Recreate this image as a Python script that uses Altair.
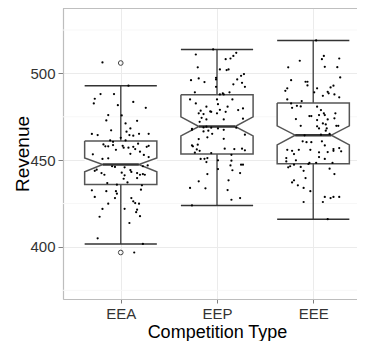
import altair as alt
import pandas as pd

# ---- data ----
groups = ["EEA", "EEP", "EEE"]
# box statistics: lower whisker, Q1, notch low, median, notch high, Q3, upper whisker
whisker_lo = [401.7, 423.9, 416.0]
q1 = [436.0, 453.6, 447.9]
notch_lo = [443.3, 464.0, 458.8]
median = [447.5, 469.4, 464.4]
notch_hi = [451.3, 475.0, 469.8]
q3 = [461.0, 487.7, 483.0]
whisker_hi = [492.9, 513.8, 519.0]
outlier_group = ["EEA", "EEA"]
outlier_value = [506.0, 396.8]

y_major = [400, 450, 500]
y_minor = [375, 425, 475, 525]

# jittered observations: (horizontal jitter in category units, revenue)
eea_jit = [-0.19, 0.08, -0.21, -0.07, -0.27, -0.28, 0.13, -0.03, 0.26, -0.13, 0.01, -0.15, 0.17, 0.05, 0.10,
           -0.10, 0.06, 0.09, 0.13, 0.19, 0.29, -0.30, -0.24, 0.00, -0.11, -0.08, 0.05, -0.18, -0.16, -0.13,
           -0.08, -0.05, 0.02, 0.03, 0.08, 0.13, 0.18, 0.15, 0.20, 0.27, 0.29, 0.24, 0.29, -0.29, -0.19, -0.13,
           0.10, -0.09, -0.06, 0.04, 0.10, 0.11, -0.27, -0.25, -0.20, -0.17, 0.01, 0.04, 0.03, 0.17, 0.20, 0.23,
           0.25, 0.17, 0.23, 0.28, -0.14, -0.04, 0.07, 0.22, 0.21, -0.30, -0.15, -0.05, -0.04, -0.27, -0.06,
           0.11, -0.13, 0.13, 0.15, 0.19, 0.04, -0.19, 0.17, 0.16, 0.20, -0.22, 0.09, -0.24, 0.23, 0.14]
eea_rev = [506.3, 492.9, 488.1, 488.1, 485.4, 482.7, 483.6, 481.7, 480.2, 476.0, 475.8, 472.9, 472.7, 471.2,
           468.3, 467.2, 466.4, 464.5, 464.1, 465.2, 465.2, 465.1, 464.5, 462.9, 461.4, 460.6, 461.4, 459.1,
           458.0, 458.0, 458.7, 456.0, 458.3, 457.2, 457.2, 457.7, 459.5, 456.4, 454.9, 457.7, 458.3, 453.0,
           451.8, 453.4, 450.7, 451.1, 453.7, 446.5, 446.1, 445.9, 444.3, 443.2, 443.9, 444.5, 442.6, 441.6,
           442.8, 441.3, 439.3, 442.6, 441.6, 442.0, 441.6, 439.7, 446.5, 447.0, 436.8, 435.9, 437.2, 435.5,
           433.0, 432.6, 432.1, 432.1, 430.7, 428.8, 428.2, 428.2, 424.9, 426.3, 425.3, 424.9, 422.0, 421.9,
           421.5, 420.0, 417.7, 417.4, 413.8, 405.0, 401.7, 396.8]

eep_jit = [-0.04, -0.22, 0.20, 0.17, 0.14, 0.09, 0.03, 0.10, 0.12, -0.20, 0.28, 0.25, -0.27, -0.19, -0.13,
           -0.01, -0.01, 0.21, 0.26, 0.17, 0.29, -0.01, -0.23, 0.06, 0.07, 0.13, 0.03, -0.28, 0.00, 0.16,
           -0.22, -0.11, 0.01, 0.11, -0.17, -0.07, -0.06, 0.03, 0.09, 0.22, 0.27, -0.19, -0.14, 0.00, -0.16,
           -0.11, 0.07, 0.27, -0.18, -0.26, -0.14, -0.11, -0.06, 0.01, 0.20, -0.26, -0.14, -0.09, -0.05, 0.07,
           0.29, -0.19, -0.10, 0.07, -0.26, -0.25, -0.20, -0.21, -0.18, -0.23, 0.08, 0.18, 0.26, 0.29, -0.06,
           0.15, -0.17, -0.13, -0.10, -0.11, 0.01, 0.15, 0.14, 0.25, 0.27, 0.01, 0.16, 0.24, -0.10, 0.12,
           -0.19, -0.12, -0.28, 0.11, 0.24, 0.15, -0.26]
eep_rev = [513.8, 510.9, 511.9, 510.1, 508.6, 508.2, 502.3, 501.9, 502.3, 503.5, 499.6, 498.6, 496.1, 497.1,
           495.0, 497.5, 496.5, 496.5, 494.6, 493.7, 492.3, 492.3, 489.1, 488.5, 487.9, 489.1, 487.9, 485.0,
           485.0, 485.0, 482.7, 480.8, 482.3, 480.8, 478.5, 478.1, 477.9, 479.0, 477.9, 478.9, 479.8, 477.0,
           476.6, 477.0, 474.4, 473.5, 473.5, 473.9, 472.1, 468.1, 468.9, 469.3, 468.7, 468.3, 468.7, 467.5,
           466.6, 467.0, 465.2, 467.5, 464.7, 462.2, 463.2, 462.3, 458.5, 458.0, 458.9, 456.2, 455.4, 454.3,
           456.6, 456.4, 456.6, 455.7, 454.1, 453.1, 450.7, 450.8, 451.2, 448.9, 449.9, 449.7, 447.0, 447.4,
           447.4, 444.9, 444.2, 442.6, 442.0, 438.4, 437.8, 433.8, 434.0, 432.8, 428.2, 427.2, 423.9]

eee_jit = [0.03, 0.11, 0.27, 0.09, -0.14, -0.26, 0.12, 0.25, 0.28, -0.23, -0.08, -0.06, -0.06, -0.27, -0.29,
           0.04, 0.18, 0.21, 0.15, 0.01, 0.10, 0.16, 0.22, 0.27, -0.27, -0.12, -0.23, -0.17, -0.13, -0.22,
           0.04, 0.08, 0.11, 0.12, 0.23, 0.06, -0.04, -0.02, -0.18, 0.04, 0.15, 0.22, 0.10, 0.13, -0.13, 0.04,
           0.24, 0.26, 0.06, 0.14, -0.09, 0.13, 0.08, 0.17, -0.11, -0.07, -0.02, 0.09, 0.12, -0.27, -0.22,
           -0.15, -0.03, 0.06, 0.15, 0.21, 0.21, 0.27, 0.29, -0.20, -0.28, -0.28, -0.18, 0.06, 0.12, -0.26,
           -0.24, -0.20, -0.13, -0.10, -0.05, -0.04, 0.03, 0.20, 0.17, 0.22, -0.08, -0.20, -0.22, -0.16, -0.10,
           -0.03, 0.12, 0.18, 0.21, 0.27, 0.10, -0.10, 0.15]
eee_rev = [519.0, 510.1, 508.6, 508.2, 507.3, 503.5, 503.8, 503.6, 497.7, 496.1, 495.2, 495.2, 493.1, 491.4,
           490.0, 491.4, 491.9, 492.9, 489.4, 489.1, 487.1, 488.5, 487.9, 486.2, 485.0, 484.1, 482.7, 481.3,
           481.0, 480.2, 480.8, 478.9, 477.0, 476.0, 477.0, 476.0, 475.4, 475.4, 473.7, 473.1, 473.5, 474.1,
           471.2, 470.6, 469.8, 469.5, 469.8, 469.8, 468.3, 468.3, 464.3, 467.0, 464.7, 465.1, 460.9, 460.4,
           460.4, 460.9, 458.5, 456.0, 455.4, 456.0, 456.0, 454.5, 454.7, 456.4, 455.4, 457.0, 455.1, 453.5,
           451.2, 449.3, 449.9, 451.8, 450.7, 445.9, 446.5, 447.4, 446.1, 443.9, 447.8, 448.4, 448.5, 448.4,
           445.1, 442.0, 439.7, 438.4, 437.2, 435.5, 434.0, 432.1, 428.8, 428.2, 428.8, 428.8, 425.9, 425.9,
           416.0]

# ---- tables built from the arrays ----
HALF = 0.375          # half box width (category units)
INDENT = 0.1875       # notch indent
pos = {g: i + 1 for i, g in enumerate(groups)}

stats = pd.DataFrame({
    "group": groups, "pos": [pos[g] for g in groups],
    "wlo": whisker_lo, "q1": q1, "nlo": notch_lo, "med": median,
    "nhi": notch_hi, "q3": q3, "whi": whisker_hi,
})
stats["xmin"] = stats["pos"] - HALF
stats["xmax"] = stats["pos"] + HALF
stats["mlo"] = stats["xmin"] + INDENT
stats["mhi"] = stats["xmax"] - INDENT

poly_rows = []
for _, r in stats.iterrows():
    verts = [(r.xmin, r.q3), (r.xmin, r.nhi), (r.mlo, r.med), (r.xmin, r.nlo), (r.xmin, r.q1),
             (r.xmax, r.q1), (r.xmax, r.nlo), (r.mhi, r.med), (r.xmax, r.nhi), (r.xmax, r.q3),
             (r.xmin, r.q3)]
    for k, (vx, vy) in enumerate(verts):
        poly_rows.append({"group": r.group, "k": k, "x": vx, "y": vy})
poly = pd.DataFrame(poly_rows)

pts = pd.concat([
    pd.DataFrame({"group": g, "x": [pos[g] + j for j in jit], "rev": rev})
    for g, jit, rev in [("EEA", eea_jit, eea_rev), ("EEP", eep_jit, eep_rev), ("EEE", eee_jit, eee_rev)]
])
outl = pd.DataFrame({"x": [pos[g] for g in outlier_group], "rev": outlier_value})
minor = pd.DataFrame({"v": y_minor})

# the reference image crops the panel on the right, so the visible x range stops short of 3.6
PX_PER_CAT = 96.25
VIEW_W = 294
VIEW_H = 291
XDOM = [0.4, 0.4 + VIEW_W / PX_PER_CAT]
YDOM = [370.0, 537.7]
BORDER = "#bdbdbd"
xs = alt.Scale(domain=XDOM, nice=False, zero=False)
ys = alt.Scale(domain=YDOM, nice=False, zero=False)

label_expr = "datum.value == 1 ? 'EEA' : datum.value == 2 ? 'EEP' : datum.value == 3 ? 'EEE' : ''"
xaxis = alt.Axis(values=[1, 2, 3], labelExpr=label_expr, title="Competition Type",
                 grid=True, gridColor="#ebebeb", domain=True, domainColor=BORDER, domainWidth=1.2,
                 tickColor="#7f7f7f", tickSize=4,
                 labelFontSize=15, labelColor="#333333", labelPadding=3,
                 titleFontSize=18, titleColor="#000000", titleFontWeight="normal",
                 titleBaseline="alphabetic", titleY=38.5, titleX=1.6 * PX_PER_CAT)
yaxis = alt.Axis(values=y_major, title="Revenue", grid=True, gridColor="#ebebeb",
                 domain=True, domainColor=BORDER, domainWidth=1.2,
                 tickColor="#7f7f7f", tickSize=5, labelFontSize=15, labelColor="#333333", labelPadding=3,
                 titleFontSize=19, titleColor="#000000", titleFontWeight="normal",
                 titleBaseline="alphabetic", titleX=-35)

minor_grid = alt.Chart(minor).mark_rule(color="#f7f7f7", strokeWidth=1).encode(
    y=alt.Y("v:Q", scale=ys, axis=yaxis))

top_border = alt.Chart(minor).mark_rule(color=BORDER, strokeWidth=1.2).encode(
    x=alt.datum(XDOM[0], scale=xs), x2=alt.datum(XDOM[1]), y=alt.datum(YDOM[1], scale=ys))

base_x = alt.X("xmin:Q", scale=xs, axis=xaxis)

box_fill = alt.Chart(stats).mark_rect(color="white").encode(
    x=base_x, x2="xmax:Q", y=alt.Y("q1:Q", scale=ys), y2="q3:Q")

box_line = alt.Chart(poly).mark_line(color="#555555", strokeWidth=1.5).encode(
    x=alt.X("x:Q", scale=xs), y=alt.Y("y:Q", scale=ys), order="k:Q", detail="group:N")

wh_up = alt.Chart(stats).mark_rule(color="#555555", strokeWidth=1.5).encode(
    x=alt.X("pos:Q", scale=xs), y=alt.Y("q3:Q", scale=ys), y2="whi:Q")
wh_dn = alt.Chart(stats).mark_rule(color="#555555", strokeWidth=1.5).encode(
    x=alt.X("pos:Q", scale=xs), y=alt.Y("q1:Q", scale=ys), y2="wlo:Q")
cap_up = alt.Chart(stats).mark_rule(color="#333333", strokeWidth=1.5).encode(
    x=alt.X("xmin:Q", scale=xs), x2="xmax:Q", y=alt.Y("whi:Q", scale=ys))
cap_dn = alt.Chart(stats).mark_rule(color="#333333", strokeWidth=1.5).encode(
    x=alt.X("xmin:Q", scale=xs), x2="xmax:Q", y=alt.Y("wlo:Q", scale=ys))
med_line = alt.Chart(stats).mark_rule(color="#333333", strokeWidth=2.5).encode(
    x=alt.X("mlo:Q", scale=xs), x2="mhi:Q", y=alt.Y("med:Q", scale=ys))

out_pts = alt.Chart(outl).mark_point(shape="circle", size=22, filled=False, color="#444444",
                                     strokeWidth=1, opacity=1).encode(
    x=alt.X("x:Q", scale=xs), y=alt.Y("rev:Q", scale=ys))

jit_pts = alt.Chart(pts).mark_circle(size=5, color="#000000", opacity=1).encode(
    x=alt.X("x:Q", scale=xs), y=alt.Y("rev:Q", scale=ys))

chart = alt.layer(minor_grid, top_border, box_fill, box_line, wh_up, wh_dn, cap_up, cap_dn, med_line,
                  out_pts, jit_pts).properties(
    width=VIEW_W, height=VIEW_H,
    autosize=alt.AutoSizeParams(type="none"),
    padding={"left": 55, "top": 0, "right": 0, "bottom": 333 - VIEW_H},
).configure_view(stroke=None).configure(
    font="Liberation Sans", background="white")

chart.save("out.html", embed_options={"renderer": "svg", "actions": False})
